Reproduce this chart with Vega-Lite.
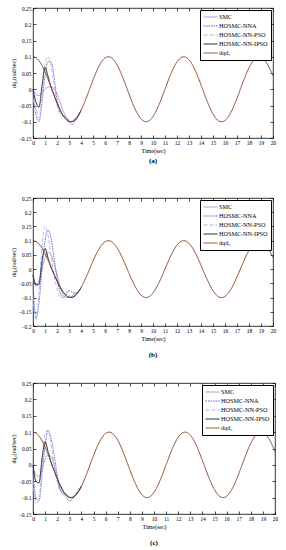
{
"$schema": "https://vega.github.io/schema/vega-lite/v6.json",
"padding": {"left": 9, "top": 5, "right": 5, "bottom": 5},
"datasets": {
"dqd": [
{"t":0,"v":0.1,"series":"dqd"},{"t":0.25,"v":0.0969,"series":"dqd"},{"t":0.5,"v":0.0878,"series":"dqd"},{"t":0.75,"v":0.0732,"series":"dqd"},{"t":1,"v":0.054,"series":"dqd"},{"t":1.25,"v":0.0315,"series":"dqd"},{"t":1.5,"v":0.0071,"series":"dqd"},{"t":1.75,"v":-0.0178,"series":"dqd"},{"t":2,"v":-0.0416,"series":"dqd"},{"t":2.25,"v":-0.0628,"series":"dqd"},{"t":2.5,"v":-0.0801,"series":"dqd"},{"t":2.75,"v":-0.0924,"series":"dqd"},{"t":3,"v":-0.099,"series":"dqd"},{"t":3.14,"v":-0.1,"series":"dqd"},{"t":3.25,"v":-0.0994,"series":"dqd"},{"t":3.5,"v":-0.0936,"series":"dqd"},{"t":3.75,"v":-0.082,"series":"dqd"},{"t":4,"v":-0.0654,"series":"dqd"},{"t":4.5,"v":-0.0211,"series":"dqd"},{"t":5,"v":0.0284,"series":"dqd"},{"t":5.5,"v":0.0709,"series":"dqd"},{"t":6,"v":0.096,"series":"dqd"},{"t":6.28,"v":0.1,"series":"dqd"},{"t":6.5,"v":0.0977,"series":"dqd"},{"t":7,"v":0.0754,"series":"dqd"},{"t":7.5,"v":0.0347,"series":"dqd"},{"t":8,"v":-0.0146,"series":"dqd"},{"t":8.5,"v":-0.0602,"series":"dqd"},{"t":9,"v":-0.0911,"series":"dqd"},{"t":9.42,"v":-0.1,"series":"dqd"},{"t":9.5,"v":-0.0997,"series":"dqd"},{"t":10,"v":-0.0839,"series":"dqd"},{"t":10.5,"v":-0.0476,"series":"dqd"},{"t":11,"v":0.0004,"series":"dqd"},{"t":11.5,"v":0.0484,"series":"dqd"},{"t":12,"v":0.0844,"series":"dqd"},{"t":12.5,"v":0.0998,"series":"dqd"},{"t":12.57,"v":0.1,"series":"dqd"},{"t":13,"v":0.0907,"series":"dqd"},{"t":13.5,"v":0.0595,"series":"dqd"},{"t":14,"v":0.0137,"series":"dqd"},{"t":14.5,"v":-0.0355,"series":"dqd"},{"t":15,"v":-0.076,"series":"dqd"},{"t":15.5,"v":-0.0981,"series":"dqd"},{"t":15.71,"v":-0.1,"series":"dqd"},{"t":16,"v":-0.0958,"series":"dqd"},{"t":16.5,"v":-0.0705,"series":"dqd"},{"t":17,"v":-0.0275,"series":"dqd"},{"t":17.5,"v":0.0219,"series":"dqd"},{"t":18,"v":0.066,"series":"dqd"},{"t":18.5,"v":0.0938,"series":"dqd"},{"t":18.85,"v":0.1,"series":"dqd"},{"t":19,"v":0.0989,"series":"dqd"},{"t":19.5,"v":0.0796,"series":"dqd"},{"t":20,"v":0.0408,"series":"dqd"}
],
"a": [
{"t":0,"SMC":0,"HOSMC-NNA":0,"HOSMC-NN-PSO":-0.03,"HOSMC-NN-IPSO":0},
{"t":0.25,"SMC":-0.015,"HOSMC-NNA":-0.08,"HOSMC-NN-PSO":-0.06,"HOSMC-NN-IPSO":-0.04},
{"t":0.5,"SMC":-0.02,"HOSMC-NNA":-0.1,"HOSMC-NN-PSO":-0.09,"HOSMC-NN-IPSO":-0.055},
{"t":0.75,"SMC":-0.01,"HOSMC-NNA":-0.04,"HOSMC-NN-PSO":-0.02,"HOSMC-NN-IPSO":0.01},
{"t":1,"SMC":0,"HOSMC-NNA":0.04,"HOSMC-NN-PSO":0.08,"HOSMC-NN-IPSO":0.067},
{"t":1.25,"SMC":0.006,"HOSMC-NNA":0.085,"HOSMC-NN-PSO":0.1,"HOSMC-NN-IPSO":0.04},
{"t":1.5,"SMC":0.008,"HOSMC-NNA":0.085,"HOSMC-NN-PSO":0.075,"HOSMC-NN-IPSO":0.0071},
{"t":1.75,"SMC":0,"HOSMC-NNA":0.04,"HOSMC-NN-PSO":0.02,"HOSMC-NN-IPSO":-0.0178},
{"t":2,"SMC":-0.015,"HOSMC-NNA":-0.03,"HOSMC-NN-PSO":-0.05,"HOSMC-NN-IPSO":-0.0416},
{"t":2.25,"SMC":-0.04,"HOSMC-NNA":-0.07,"HOSMC-NN-PSO":-0.075,"HOSMC-NN-IPSO":-0.0628},
{"t":2.5,"SMC":-0.065,"HOSMC-NNA":-0.08,"HOSMC-NN-PSO":-0.08,"HOSMC-NN-IPSO":-0.0801},
{"t":2.75,"SMC":-0.085,"HOSMC-NNA":-0.085,"HOSMC-NN-PSO":-0.09,"HOSMC-NN-IPSO":-0.0924},
{"t":3,"SMC":-0.1,"HOSMC-NNA":-0.095,"HOSMC-NN-PSO":-0.097,"HOSMC-NN-IPSO":-0.099},
{"t":3.25,"SMC":-0.108,"HOSMC-NNA":-0.1,"HOSMC-NN-PSO":-0.1,"HOSMC-NN-IPSO":-0.0994},
{"t":3.5,"SMC":-0.1,"HOSMC-NNA":-0.094,"HOSMC-NN-PSO":-0.094,"HOSMC-NN-IPSO":-0.0936},
{"t":3.75,"SMC":-0.085,"HOSMC-NNA":-0.082,"HOSMC-NN-PSO":-0.082,"HOSMC-NN-IPSO":-0.082},
{"t":4,"SMC":-0.0654,"HOSMC-NNA":-0.0654,"HOSMC-NN-PSO":-0.0654,"HOSMC-NN-IPSO":-0.0654}
],
"b": [
{"t":0,"SMC":-0.02,"HOSMC-NNA":-0.05,"HOSMC-NN-PSO":-0.1,"HOSMC-NN-IPSO":-0.02},
{"t":0.25,"SMC":-0.06,"HOSMC-NNA":-0.17,"HOSMC-NN-PSO":-0.18,"HOSMC-NN-IPSO":-0.055},
{"t":0.5,"SMC":-0.04,"HOSMC-NNA":-0.12,"HOSMC-NN-PSO":-0.08,"HOSMC-NN-IPSO":-0.055},
{"t":0.75,"SMC":0,"HOSMC-NNA":0,"HOSMC-NN-PSO":0.08,"HOSMC-NN-IPSO":0.03},
{"t":1,"SMC":0.04,"HOSMC-NNA":0.1,"HOSMC-NN-PSO":0.15,"HOSMC-NN-IPSO":0.072},
{"t":1.25,"SMC":0.06,"HOSMC-NNA":0.138,"HOSMC-NN-PSO":0.12,"HOSMC-NN-IPSO":0.04},
{"t":1.5,"SMC":0.05,"HOSMC-NNA":0.11,"HOSMC-NN-PSO":0.05,"HOSMC-NN-IPSO":0.0071},
{"t":1.75,"SMC":0.02,"HOSMC-NNA":0.04,"HOSMC-NN-PSO":-0.02,"HOSMC-NN-IPSO":-0.0178},
{"t":2,"SMC":-0.02,"HOSMC-NNA":-0.03,"HOSMC-NN-PSO":-0.07,"HOSMC-NN-IPSO":-0.0416},
{"t":2.25,"SMC":-0.06,"HOSMC-NNA":-0.08,"HOSMC-NN-PSO":-0.1,"HOSMC-NN-IPSO":-0.0628},
{"t":2.5,"SMC":-0.09,"HOSMC-NNA":-0.1,"HOSMC-NN-PSO":-0.1,"HOSMC-NN-IPSO":-0.0801},
{"t":2.75,"SMC":-0.1,"HOSMC-NNA":-0.09,"HOSMC-NN-PSO":-0.08,"HOSMC-NN-IPSO":-0.0924},
{"t":3,"SMC":-0.1,"HOSMC-NNA":-0.075,"HOSMC-NN-PSO":-0.09,"HOSMC-NN-IPSO":-0.099},
{"t":3.25,"SMC":-0.095,"HOSMC-NNA":-0.08,"HOSMC-NN-PSO":-0.1,"HOSMC-NN-IPSO":-0.0994},
{"t":3.5,"SMC":-0.085,"HOSMC-NNA":-0.085,"HOSMC-NN-PSO":-0.094,"HOSMC-NN-IPSO":-0.0936},
{"t":3.75,"SMC":-0.08,"HOSMC-NNA":-0.082,"HOSMC-NN-PSO":-0.082,"HOSMC-NN-IPSO":-0.082},
{"t":4,"SMC":-0.0654,"HOSMC-NNA":-0.0654,"HOSMC-NN-PSO":-0.0654,"HOSMC-NN-IPSO":-0.0654}
],
"c": [
{"t":0,"SMC":-0.01,"HOSMC-NNA":-0.02,"HOSMC-NN-PSO":-0.05,"HOSMC-NN-IPSO":0},
{"t":0.25,"SMC":-0.03,"HOSMC-NNA":-0.1,"HOSMC-NN-PSO":-0.12,"HOSMC-NN-IPSO":-0.05},
{"t":0.5,"SMC":-0.035,"HOSMC-NNA":-0.11,"HOSMC-NN-PSO":-0.1,"HOSMC-NN-IPSO":-0.055},
{"t":0.75,"SMC":-0.01,"HOSMC-NNA":-0.03,"HOSMC-NN-PSO":0,"HOSMC-NN-IPSO":0.02},
{"t":1,"SMC":0.015,"HOSMC-NNA":0.06,"HOSMC-NN-PSO":0.1,"HOSMC-NN-IPSO":0.07},
{"t":1.25,"SMC":0.03,"HOSMC-NNA":0.105,"HOSMC-NN-PSO":0.105,"HOSMC-NN-IPSO":0.04},
{"t":1.5,"SMC":0.025,"HOSMC-NNA":0.08,"HOSMC-NN-PSO":0.06,"HOSMC-NN-IPSO":0.0071},
{"t":1.75,"SMC":0,"HOSMC-NNA":0.03,"HOSMC-NN-PSO":0,"HOSMC-NN-IPSO":-0.0178},
{"t":2,"SMC":-0.04,"HOSMC-NNA":-0.03,"HOSMC-NN-PSO":-0.05,"HOSMC-NN-IPSO":-0.0416},
{"t":2.25,"SMC":-0.075,"HOSMC-NNA":-0.075,"HOSMC-NN-PSO":-0.08,"HOSMC-NN-IPSO":-0.0628},
{"t":2.5,"SMC":-0.085,"HOSMC-NNA":-0.09,"HOSMC-NN-PSO":-0.085,"HOSMC-NN-IPSO":-0.0801},
{"t":2.75,"SMC":-0.1,"HOSMC-NNA":-0.09,"HOSMC-NN-PSO":-0.09,"HOSMC-NN-IPSO":-0.0924},
{"t":3,"SMC":-0.11,"HOSMC-NNA":-0.1,"HOSMC-NN-PSO":-0.1,"HOSMC-NN-IPSO":-0.099},
{"t":3.25,"SMC":-0.105,"HOSMC-NNA":-0.1,"HOSMC-NN-PSO":-0.1,"HOSMC-NN-IPSO":-0.0994},
{"t":3.5,"SMC":-0.09,"HOSMC-NNA":-0.094,"HOSMC-NN-PSO":-0.094,"HOSMC-NN-IPSO":-0.0936},
{"t":3.75,"SMC":-0.075,"HOSMC-NNA":-0.082,"HOSMC-NN-PSO":-0.082,"HOSMC-NN-IPSO":-0.082},
{"t":4,"SMC":-0.0654,"HOSMC-NNA":-0.0654,"HOSMC-NN-PSO":-0.0654,"HOSMC-NN-IPSO":-0.0654}
]
},
"config": {
"font": "Liberation Serif",
"view": {"stroke": "#000", "strokeWidth": 0.8},
"axis": {"grid": false, "domain": false, "tickSize": -3, "tickColor": "#000", "tickWidth": 0.7, "labelFontSize": 5.5, "titleFontSize": 6, "titleFontWeight": "normal", "labelColor": "#000", "titleColor": "#000", "labelPadding": 5, "titlePadding": 2, "labelFlush": false, "labelOverlap": false, "labelFont": "Liberation Serif", "titleFont": "Liberation Serif"},
"legend": {"orient": "top-right", "offset": 2, "strokeColor": "#000", "fillColor": "#fff", "padding": 3, "labelFontSize": 6.2, "labelFont": "Liberation Serif", "labelColor": "#000", "symbolType": "M-1,0H3", "symbolSize": 49, "symbolStrokeWidth": 1, "rowPadding": 1, "labelOffset": 8, "cornerRadius": 0},
"title": {"font": "Liberation Serif", "fontSize": 7, "fontWeight": "bold", "color": "#000"}
},
"spacing": 22,
"resolve": {"scale": {"color": "independent", "strokeDash": "independent", "x": "independent", "y": "independent"}, "legend": {"color": "independent", "strokeDash": "independent"}},
"vconcat": [
{
"width": 240, "height": 130,
"title": {"text": "(a)", "orient": "bottom", "offset": 3},
"resolve": {"scale": {"x": "independent", "y": "independent"}},
"layer": [
{"data": {"name": "a"}, "transform": [{"fold": ["SMC", "HOSMC-NNA", "HOSMC-NN-PSO", "HOSMC-NN-IPSO"], "as": ["series", "v"]}],
 "mark": {"type": "line", "interpolate": "monotone", "strokeWidth": 0.9},
 "encoding": {
  "x": {"field": "t", "type": "quantitative", "scale": {"domain": [0, 20], "nice": false}, "axis": {"title": "Time(sec)", "values": [0,1,2,3,4,5,6,7,8,9,10,11,12,13,14,15,16,17,18,19,20]}},
  "y": {"field": "v", "type": "quantitative", "scale": {"domain": [-0.15, 0.25], "nice": false}, "axis": {"title": "dq₁(rad/sec)", "format": "~g", "values": [-0.15,-0.1,-0.05,0,0.05,0.1,0.15,0.2,0.25]}},
  "color": {"field": "series", "type": "nominal", "scale": {"domain": ["SMC", "HOSMC-NNA", "HOSMC-NN-PSO", "HOSMC-NN-IPSO", "dqd"], "range": ["#a88fd8", "#6a5cc8", "#9dbde6", "#111111", "#8b4a2b"]}, "legend": {"title": null, "labelExpr": "datum.label == 'dqd' ? 'dqd₁' : datum.label"}},
  "strokeDash": {"field": "series", "type": "nominal", "scale": {"domain": ["SMC", "HOSMC-NNA", "HOSMC-NN-PSO", "HOSMC-NN-IPSO", "dqd"], "range": [[1, 0], [1.5, 1], [4, 2], [1, 0], [1, 0]]}, "legend": {"title": null, "labelExpr": "datum.label == 'dqd' ? 'dqd₁' : datum.label"}}
 }},
{"data": {"name": "dqd"},
 "mark": {"type": "line", "interpolate": "monotone", "strokeWidth": 1},
 "encoding": {
  "x": {"field": "t", "type": "quantitative", "scale": {"domain": [0, 20], "nice": false}, "axis": {"orient": "top", "labels": false, "title": null, "values": [0,1,2,3,4,5,6,7,8,9,10,11,12,13,14,15,16,17,18,19,20]}},
  "y": {"field": "v", "type": "quantitative", "scale": {"domain": [-0.15, 0.25], "nice": false}, "axis": {"orient": "right", "labels": false, "title": null, "values": [-0.15,-0.1,-0.05,0,0.05,0.1,0.15,0.2,0.25]}},
  "color": {"field": "series", "type": "nominal"},
  "strokeDash": {"field": "series", "type": "nominal"}
 }}
]
},
{
"width": 240, "height": 128,
"title": {"text": "(b)", "orient": "bottom", "offset": 9},
"resolve": {"scale": {"x": "independent", "y": "independent"}},
"layer": [
{"data": {"name": "b"}, "transform": [{"fold": ["SMC", "HOSMC-NNA", "HOSMC-NN-PSO", "HOSMC-NN-IPSO"], "as": ["series", "v"]}],
 "mark": {"type": "line", "interpolate": "monotone", "strokeWidth": 0.9},
 "encoding": {
  "x": {"field": "t", "type": "quantitative", "scale": {"domain": [0, 20], "nice": false}, "axis": {"title": "Time(sec)", "values": [0,1,2,3,4,5,6,7,8,9,10,11,12,13,14,15,16,17,18,19,20]}},
  "y": {"field": "v", "type": "quantitative", "scale": {"domain": [-0.2, 0.25], "nice": false}, "axis": {"title": "dq₂(rad/sec)", "format": "~g", "values": [-0.2,-0.15,-0.1,-0.05,0,0.05,0.1,0.15,0.2,0.25]}},
  "color": {"field": "series", "type": "nominal", "scale": {"domain": ["SMC", "HOSMC-NNA", "HOSMC-NN-PSO", "HOSMC-NN-IPSO", "dqd"], "range": ["#a88fd8", "#6a5cc8", "#9dbde6", "#111111", "#8b4a2b"]}, "legend": {"title": null, "labelExpr": "datum.label == 'dqd' ? 'dqd₂' : datum.label"}},
  "strokeDash": {"field": "series", "type": "nominal", "scale": {"domain": ["SMC", "HOSMC-NNA", "HOSMC-NN-PSO", "HOSMC-NN-IPSO", "dqd"], "range": [[1, 0], [1.5, 1], [4, 2], [1, 0], [1, 0]]}, "legend": {"title": null, "labelExpr": "datum.label == 'dqd' ? 'dqd₂' : datum.label"}}
 }},
{"data": {"name": "dqd"},
 "mark": {"type": "line", "interpolate": "monotone", "strokeWidth": 1},
 "encoding": {
  "x": {"field": "t", "type": "quantitative", "scale": {"domain": [0, 20], "nice": false}, "axis": {"orient": "top", "labels": false, "title": ".", "titleOpacity": 0, "titleFontSize": 6, "titlePadding": 5, "values": [0,1,2,3,4,5,6,7,8,9,10,11,12,13,14,15,16,17,18,19,20]}},
  "y": {"field": "v", "type": "quantitative", "scale": {"domain": [-0.2, 0.25], "nice": false}, "axis": {"orient": "right", "labels": false, "title": null, "values": [-0.2,-0.15,-0.1,-0.05,0,0.05,0.1,0.15,0.2,0.25]}},
  "color": {"field": "series", "type": "nominal"},
  "strokeDash": {"field": "series", "type": "nominal"}
 }}
]
},
{
"width": 242, "height": 131,
"title": {"text": "(c)", "orient": "bottom", "offset": 9},
"resolve": {"scale": {"x": "independent", "y": "independent"}},
"layer": [
{"data": {"name": "c"}, "transform": [{"fold": ["SMC", "HOSMC-NNA", "HOSMC-NN-PSO", "HOSMC-NN-IPSO"], "as": ["series", "v"]}],
 "mark": {"type": "line", "interpolate": "monotone", "strokeWidth": 0.9},
 "encoding": {
  "x": {"field": "t", "type": "quantitative", "scale": {"domain": [0, 20], "nice": false}, "axis": {"title": "Time(sec)", "values": [0,1,2,3,4,5,6,7,8,9,10,11,12,13,14,15,16,17,18,19,20]}},
  "y": {"field": "v", "type": "quantitative", "scale": {"domain": [-0.15, 0.25], "nice": false}, "axis": {"title": "dq₃(rad/sec)", "format": "~g", "values": [-0.15,-0.1,-0.05,0,0.05,0.1,0.15,0.2,0.25]}},
  "color": {"field": "series", "type": "nominal", "scale": {"domain": ["SMC", "HOSMC-NNA", "HOSMC-NN-PSO", "HOSMC-NN-IPSO", "dqd"], "range": ["#a88fd8", "#6a5cc8", "#9dbde6", "#111111", "#8b4a2b"]}, "legend": {"title": null, "labelExpr": "datum.label == 'dqd' ? 'dqd₃' : datum.label"}},
  "strokeDash": {"field": "series", "type": "nominal", "scale": {"domain": ["SMC", "HOSMC-NNA", "HOSMC-NN-PSO", "HOSMC-NN-IPSO", "dqd"], "range": [[1, 0], [1.5, 1], [4, 2], [1, 0], [1, 0]]}, "legend": {"title": null, "labelExpr": "datum.label == 'dqd' ? 'dqd₃' : datum.label"}}
 }},
{"data": {"name": "dqd"},
 "mark": {"type": "line", "interpolate": "monotone", "strokeWidth": 1},
 "encoding": {
  "x": {"field": "t", "type": "quantitative", "scale": {"domain": [0, 20], "nice": false}, "axis": {"orient": "top", "labels": false, "title": null, "values": [0,1,2,3,4,5,6,7,8,9,10,11,12,13,14,15,16,17,18,19,20]}},
  "y": {"field": "v", "type": "quantitative", "scale": {"domain": [-0.15, 0.25], "nice": false}, "axis": {"orient": "right", "labels": false, "title": null, "values": [-0.15,-0.1,-0.05,0,0.05,0.1,0.15,0.2,0.25]}},
  "color": {"field": "series", "type": "nominal"},
  "strokeDash": {"field": "series", "type": "nominal"}
 }}
]
}
]
}
